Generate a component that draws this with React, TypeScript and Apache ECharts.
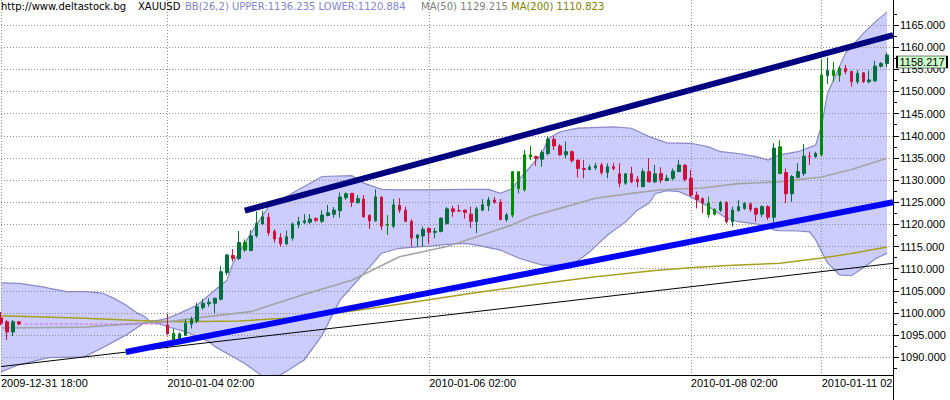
import React, { useEffect, useRef } from "react";
import * as echarts from "echarts";

// ---------- data ----------
const slotCount = 151;
const xTickSlot = [0, 28, 72, 116, 138];
const xTickText = ["2009-12-31 18:00", "2010-01-04 02:00", "2010-01-06 02:00", "2010-01-08 02:00", "2010-01-11 02:00"];
const yTickValues = [1090, 1095, 1100, 1105, 1110, 1115, 1120, 1125, 1130, 1135, 1140, 1145, 1150, 1155, 1160, 1165];
const yMin = 1086.0;
const yMax = 1170.64;

const sessionStart = [0, 28];
const sessionLength = [4, 122];

const open = [1098.9, 1098.0, 1095.7, 1098.0,
  1097.3, 1095.4, 1093.9, 1095.0, 1097.5, 1098.2, 1101.2, 1102.1, 1102.2, 1103.1,
  1109.1, 1113.0, 1112.3, 1115.9, 1114.1, 1117.4, 1120.1, 1121.6, 1118.4, 1117.0,
  1115.6, 1116.9, 1119.9, 1120.4, 1120.5, 1121.3, 1120.7, 1122.0, 1122.3, 1123.1,
  1126.0, 1127.0, 1124.9, 1125.7, 1122.0, 1120.8, 1126.1, 1120.0, 1119.6, 1124.3,
  1123.2, 1120.7, 1116.9, 1117.4, 1119.1, 1118.2, 1118.4, 1120.2, 1123.5, 1123.1,
  1123.2, 1122.3, 1120.6, 1123.2, 1124.2, 1125.5, 1125.0, 1121.1, 1122.1, 1131.9,
  1127.8, 1135.7, 1135.3, 1134.7, 1136.0, 1139.2, 1137.7, 1135.7, 1136.4, 1134.5,
  1132.6, 1132.4, 1132.8, 1133.4, 1131.7, 1133.0, 1131.4, 1129.3, 1131.4, 1130.2,
  1128.5, 1131.9, 1129.6, 1131.5, 1129.9, 1130.4, 1131.9, 1133.4, 1130.4, 1126.6,
  1125.8, 1124.8, 1122.3, 1123.2, 1124.9, 1120.6, 1123.1, 1123.6, 1124.6, 1123.6,
  1122.3, 1124.0, 1121.6, 1137.5, 1131.7, 1126.9, 1130.6, 1131.5, 1135.4, 1135.3,
  1135.7, 1153.6, 1154.7, 1153.6, 1155.2, 1154.5, 1152.2, 1154.2, 1152.2, 1152.4,
  1155.7, 1156.3];
const close = [1097.7, 1095.7, 1098.0, 1097.5,
  1095.3, 1093.7, 1095.3, 1097.7, 1098.6, 1101.4, 1102.2, 1102.4, 1103.3, 1109.3,
  1113.1, 1112.3, 1115.9, 1114.2, 1117.4, 1120.2, 1121.7, 1118.1, 1116.7, 1115.6,
  1117.2, 1120.1, 1120.6, 1120.8, 1121.2, 1120.9, 1122.1, 1122.6, 1123.2, 1126.2,
  1126.9, 1125.0, 1125.8, 1121.7, 1120.8, 1126.2, 1119.6, 1119.8, 1124.4, 1123.2,
  1120.7, 1116.9, 1117.6, 1118.9, 1118.2, 1118.4, 1121.4, 1123.5, 1122.9, 1123.0,
  1122.7, 1120.7, 1123.5, 1124.4, 1125.5, 1125.0, 1121.1, 1122.1, 1131.9, 1128.1,
  1135.7, 1135.2, 1134.9, 1136.2, 1139.2, 1137.7, 1135.7, 1136.4, 1134.4, 1132.6,
  1132.4, 1132.9, 1133.2, 1131.7, 1133.0, 1132.6, 1129.3, 1131.4, 1129.6, 1129.6,
  1131.9, 1129.6, 1131.4, 1130.0, 1130.4, 1132.0, 1133.4, 1130.2, 1126.6, 1125.6,
  1124.8, 1122.2, 1123.4, 1124.9, 1120.6, 1123.2, 1124.0, 1124.7, 1123.4, 1122.3,
  1124.0, 1121.6, 1137.2, 1131.5, 1126.9, 1130.8, 1131.9, 1135.4, 1135.3, 1136.0,
  1153.7, 1154.7, 1153.6, 1155.2, 1154.5, 1152.2, 1154.1, 1152.2, 1152.6, 1155.7,
  1156.3, 1158.217];
const low = [1097.2, 1093.9, 1094.8, 1097.2,
  1095.0, 1093.5, 1093.6, 1094.8, 1096.5, 1097.7, 1100.7, 1101.4, 1099.9, 1102.8,
  1108.5, 1111.6, 1111.9, 1113.8, 1113.9, 1117.0, 1119.8, 1117.4, 1115.9, 1115.0,
  1115.3, 1116.3, 1119.1, 1120.1, 1120.1, 1120.5, 1120.3, 1121.8, 1121.5, 1121.5,
  1125.5, 1123.9, 1124.7, 1121.5, 1119.0, 1120.6, 1118.7, 1117.6, 1119.1, 1122.6,
  1120.5, 1115.0, 1115.0, 1115.0, 1115.7, 1116.9, 1118.2, 1119.9, 1121.7, 1122.9,
  1121.3, 1119.2, 1118.0, 1123.0, 1123.0, 1124.6, 1120.9, 1120.6, 1121.5, 1127.0,
  1127.4, 1134.5, 1133.2, 1133.0, 1135.6, 1136.8, 1135.5, 1134.9, 1133.9, 1130.6,
  1130.4, 1132.2, 1132.3, 1131.2, 1130.4, 1132.2, 1128.4, 1128.9, 1129.3, 1128.4,
  1128.4, 1129.5, 1129.3, 1129.3, 1129.7, 1129.9, 1131.9, 1129.7, 1126.2, 1123.6,
  1122.5, 1121.5, 1122.0, 1122.8, 1120.2, 1119.5, 1122.9, 1123.3, 1122.8, 1120.6,
  1121.6, 1121.0, 1120.2, 1131.3, 1124.8, 1125.1, 1130.4, 1130.9, 1133.4, 1135.0,
  1135.4, 1151.7, 1152.2, 1152.2, 1153.9, 1151.1, 1151.7, 1151.9, 1151.8, 1152.2,
  1155.4, 1155.5];
const high = [1100.2, 1098.4, 1098.4, 1098.2,
  1099.8, 1096.4, 1095.6, 1098.6, 1099.2, 1102.3, 1103.1, 1103.3, 1103.5, 1110.6,
  1113.3, 1114.4, 1118.5, 1116.6, 1118.7, 1122.9, 1123.1, 1122.6, 1118.9, 1118.0,
  1118.6, 1120.4, 1121.7, 1122.3, 1122.3, 1121.6, 1123.2, 1124.4, 1123.9, 1127.2,
  1127.2, 1127.1, 1126.6, 1126.6, 1122.3, 1127.9, 1126.4, 1122.1, 1125.7, 1125.9,
  1124.0, 1121.1, 1117.8, 1119.5, 1119.3, 1119.2, 1121.6, 1123.9, 1124.2, 1124.4,
  1123.4, 1124.0, 1124.0, 1125.7, 1126.2, 1126.2, 1125.7, 1122.6, 1131.9, 1131.9,
  1136.8, 1137.7, 1135.5, 1136.8, 1139.9, 1139.9, 1138.1, 1138.7, 1136.7, 1134.6,
  1134.5, 1133.5, 1133.9, 1133.9, 1133.8, 1133.8, 1133.8, 1131.6, 1133.0, 1130.9,
  1132.6, 1134.9, 1133.4, 1132.9, 1131.2, 1132.6, 1134.5, 1133.4, 1132.3, 1127.4,
  1126.1, 1126.3, 1123.6, 1125.3, 1125.3, 1124.0, 1125.5, 1125.0, 1124.9, 1123.8,
  1124.3, 1124.3, 1138.3, 1139.0, 1132.6, 1131.1, 1133.8, 1138.1, 1136.4, 1136.4,
  1157.3, 1157.7, 1156.7, 1155.7, 1156.0, 1154.7, 1154.8, 1154.4, 1154.7, 1156.9,
  1156.6, 1158.8];
const brightSlots = [29, 41, 65, 86, 87, 88, 89, 119, 120, 131, 138, 140, 141];
const lastPrice = 1158.217;

const bbUpperSlot = [0, 3, 7, 8, 11, 14, 17, 19, 21, 23, 24, 25, 26, 27, 28, 30, 33, 36, 38, 39, 42, 45, 50, 54, 59, 61, 64, 67, 72, 78, 82, 84, 86, 87, 89, 91, 92, 94, 97, 103, 106, 109, 112, 116, 119, 121, 124, 127, 129, 130, 131, 134, 137, 138, 139, 142, 145, 147, 149];
const bbUpper = [1106.8, 1106.7, 1105.9, 1105.6, 1104.8, 1104.8, 1104.5, 1103.3, 1101.8, 1099.9, 1099.3, 1098.2, 1098.2, 1098.5, 1098.8, 1099.9, 1101.8, 1105.2, 1107.4, 1111.2, 1118.0, 1124.0, 1127.8, 1130.8, 1131.0, 1129.3, 1127.9, 1127.8, 1127.8, 1127.9, 1127.9, 1127.0, 1128.1, 1130.0, 1133.0, 1136.0, 1139.4, 1140.9, 1141.7, 1142.0, 1141.7, 1139.8, 1138.4, 1138.3, 1137.5, 1136.4, 1136.0, 1135.3, 1134.5, 1135.2, 1135.7, 1136.4, 1137.9, 1142.4, 1149.6, 1158.6, 1163.1, 1165.7, 1167.9];
const bbLowerSlot = [0, 3, 8, 14, 17, 21, 24, 25, 26, 27, 28, 31, 35, 36, 39, 41, 43, 44, 47, 51, 54, 57, 60, 62, 64, 67, 69, 72, 75, 78, 80, 84, 87, 91, 96, 99, 102, 105, 107, 109, 110, 112, 114, 116, 119, 122, 124, 127, 129, 130, 131, 134, 136, 137, 138, 139, 141, 143, 145, 147, 149];
const bbLower = [1086.7, 1088.3, 1089.9, 1090.1, 1092.1, 1095.0, 1097.7, 1097.9, 1097.7, 1097.4, 1096.9, 1095.8, 1093.5, 1092.4, 1090.1, 1088.6, 1086.7, 1085.6, 1086.0, 1089.4, 1095.0, 1102.9, 1107.4, 1110.4, 1113.5, 1114.6, 1114.8, 1115.1, 1115.5, 1115.7, 1115.3, 1114.2, 1112.4, 1110.8, 1110.8, 1113.8, 1117.6, 1120.5, 1123.2, 1124.8, 1126.9, 1127.6, 1127.4, 1126.2, 1124.0, 1121.4, 1120.6, 1120.1, 1119.5, 1118.7, 1118.6, 1118.5, 1118.3, 1116.5, 1113.8, 1111.3, 1108.6, 1108.4, 1110.2, 1112.2, 1113.5];

const ma50Slot = [0, 14, 24, 28, 33, 42, 50, 59, 67, 75, 80, 86, 89, 95, 100, 106, 111, 118, 124, 131, 138, 143, 149];
const ma50 = [1096.6, 1096.8, 1097.7, 1098.0, 1098.9, 1100.3, 1103.8, 1107.4, 1112.7, 1115.0, 1117.2, 1119.9, 1121.7, 1124.0, 1125.9, 1127.0, 1127.8, 1128.2, 1129.2, 1129.6, 1130.7, 1132.4, 1134.9];
const ma200Slot = [0, 14, 25, 30, 40, 50, 60, 70, 80, 90, 100, 110, 117, 124, 131, 138, 143, 149];
const ma200 = [1099.4, 1098.8, 1098.2, 1098.0, 1098.2, 1099.0, 1100.6, 1102.6, 1104.6, 1106.5, 1108.2, 1109.6, 1110.3, 1110.8, 1111.2, 1112.4, 1113.4, 1114.9];

const blackLineSlot = [0, 150];
const blackLine = [1087.9, 1111.2];
const upperTrendSlot = [41, 150];
const upperTrend = [1123.1, 1162.7];
const lowerTrendSlot = [21, 150];
const lowerTrend = [1091.2, 1125.0];
const flatSlot = [4, 27];
const flatPrice = [1097.5, 1097.5];

const headerTexts = ["http://www.deltastock.bg", "XAUUSD", "BB(26,2) UPPER:1136.235 LOWER:1120.884", "MA(50) 1129.215", "MA(200) 1110.823"];

// ---------- styles ----------
const AXIS_FONT = "Liberation Sans";
const HEAD_FONT = "DejaVu Sans";
const headerX = [1, 138, 185, 421, 511];
const headerColor = ["#000000", "#000000", "#8484cc", "#808080", "#808000"];
const UP = "#00703a";
const DOWN = "#d0103a";
const UP_BRIGHT = "#008c00";
const DOWN_BRIGHT = "#ff0000";

export default function App() {
  const ref = useRef<HTMLDivElement>(null);

  useEffect(() => {
    document.body.style.margin = "0";
    const chart = echarts.init(ref.current as HTMLDivElement, null, { renderer: "svg" });

    const slots: number[] = [];
    sessionStart.forEach((s, k) => {
      for (let j = 0; j < sessionLength[k]; j++) slots.push(s + j);
    });
    const tickMap = new Map<number, string>(xTickSlot.map((s, k) => [s, xTickText[k]]));
    const categories = Array.from({ length: slotCount }, (_, i) => tickMap.get(i) ?? String(i));

    const candleData = slots.map((s, k) => {
      const item: any = { value: [s, open[k], close[k], low[k], high[k]] };
      if (brightSlots.includes(s)) {
        item.itemStyle = { color: UP_BRIGHT, color0: DOWN_BRIGHT, borderColor: UP_BRIGHT, borderColor0: DOWN_BRIGHT };
      }
      return item;
    });

    const pairs = (xs: number[], ys: number[]) => xs.map((x, k) => [x, ys[k]]);

    const lineSeries = (data: number[][], color: string, width: number, z: number, type: any = "solid") => ({
      type: "line",
      data,
      symbol: "none",
      showSymbol: false,
      silent: true,
      z,
      lineStyle: { color, width, type },
    });

    const option: any = {
      animation: false,
      backgroundColor: "#ffffff",
      textStyle: { fontFamily: AXIS_FONT },
      grid: { left: 1, right: 57, top: 0, bottom: 25, containLabel: false, outerBoundsMode: "none" },
      xAxis: {
        type: "category",
        data: categories,
        boundaryGap: false,
        axisLine: { show: true, lineStyle: { color: "#000", width: 1 } },
        axisTick: { show: false },
        axisLabel: {
          interval: (i: number) => tickMap.has(i),
          align: "left",
          margin: 2,
          color: "#000",
          fontSize: 11,
          fontFamily: AXIS_FONT,
        },
        splitLine: {
          show: true,
          interval: (i: number) => tickMap.has(i),
          lineStyle: { color: "#8c8c8c", width: 1, type: [1, 2] },
        },
      },
      yAxis: {
        type: "value",
        position: "right",
        min: yMin,
        max: yMax,
        minInterval: 5,
        maxInterval: 5,
        axisLine: { show: true, lineStyle: { color: "#000", width: 1 } },
        axisTick: { show: true, length: 6, lineStyle: { color: "#000" }, customValues: yTickValues },
        minorTick: { show: true, splitNumber: 2, length: 4, lineStyle: { color: "#000" } },
        axisLabel: {
          customValues: yTickValues,
          formatter: (v: number) => v.toFixed(3),
          margin: 7,
          color: "#000",
          fontSize: 11,
          fontFamily: AXIS_FONT,
        },
        splitLine: { show: true, lineStyle: { color: "#8c8c8c", width: 1, type: [1, 2] } },
      },
      series: [
        {
          type: "custom",
          data: [[0, yMin]],
          z: -1,
          clip: true,
          silent: true,
          renderItem: (_params: any, api: any) => {
            const up = bbUpperSlot.map((s, k) => api.coord([s, bbUpper[k]]));
            const lo = bbLowerSlot.map((s, k) => api.coord([s, bbLower[k]]));
            return {
              type: "group",
              children: [
                { type: "polygon", shape: { points: up.concat(lo.slice().reverse()) }, style: { fill: "#ccccff" } },
                { type: "polyline", shape: { points: up }, style: { stroke: "#8888c8", lineWidth: 1.2, fill: null } },
                { type: "polyline", shape: { points: lo }, style: { stroke: "#8888c8", lineWidth: 1.2, fill: null } },
              ],
            };
          },
        },
        lineSeries(pairs(ma200Slot, ma200), "#a6a020", 1.5, 2),
        lineSeries(pairs(ma50Slot, ma50), "#a4a4a4", 1.6, 2),
        lineSeries(pairs(blackLineSlot, blackLine), "#000000", 1, 2),
        {
          type: "candlestick",
          data: candleData,
          encode: { x: 0, y: [1, 2, 3, 4] },
          barWidth: 3,
          z: 3,
          silent: true,
          itemStyle: { color: UP, color0: DOWN, borderColor: UP, borderColor0: DOWN, borderWidth: 1 },
        },
        lineSeries(pairs(flatSlot, flatPrice), "#cc66ee", 1, 3, [3, 2]),
        lineSeries(pairs(upperTrendSlot, upperTrend), "#000080", 6, 4),
        lineSeries(pairs(lowerTrendSlot, lowerTrend), "#0000ff", 6, 4),
        {
          type: "scatter",
          data: [[slotCount - 1, lastPrice]],
          symbol: "rect",
          symbolSize: [50, 12],
          symbolOffset: [29, 7],
          clip: false,
          silent: true,
          z: 8,
          itemStyle: { color: "#ccffcc", borderColor: "#000", borderWidth: 1, opacity: 1 },
          label: {
            show: true,
            position: "inside",
            formatter: () => lastPrice.toFixed(3),
            color: "#000",
            fontSize: 11,
            fontFamily: AXIS_FONT,
          },
        },
      ],
      graphic: [
        ...headerTexts.map((t, k) => ({
          type: "text",
          x: headerX[k],
          y: 1,
          z: 20,
          silent: true,
          style: { text: t, fill: headerColor[k], fontSize: 10, fontFamily: HEAD_FONT, verticalAlign: "top" },
        })),
        { type: "rect", z: 50, silent: true, shape: { x: 894, y: 376, width: 56, height: 24 }, style: { fill: "#ffffff" } },
        { type: "line", z: 51, silent: true, shape: { x1: 893.5, y1: 375, x2: 893.5, y2: 400 }, style: { stroke: "#000", lineWidth: 1 } },
      ],
    };

    chart.setOption(option);
    return () => chart.dispose();
  }, []);

  return <div ref={ref} style={{ position: "absolute", left: 0, top: 0, width: 950, height: 400 }} />;
}
